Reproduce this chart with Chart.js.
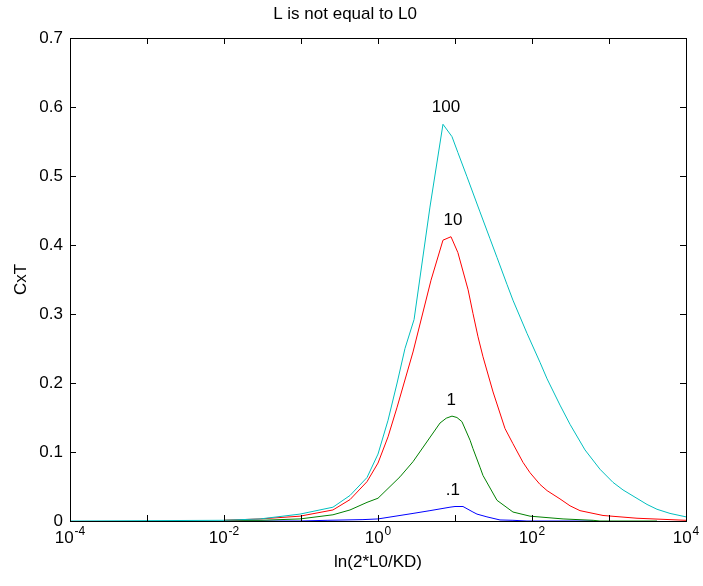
<!DOCTYPE html>
<html>
<head>
<meta charset="utf-8">
<script src="https://cdn.jsdelivr.net/npm/chart.js@4"></script>
<style>
  html, body { margin: 0; padding: 0; background: #ffffff; }
  #wrap { width: 703px; height: 586px; }
</style>
</head>
<body>
<div id="wrap"><canvas id="c" width="703" height="586"></canvas></div>
<script>
// ---- data ----
const xCyan = [0.0001, 0.01, 0.0294, 0.097, 0.26, 0.433, 0.72, 1, 1.35, 1.77, 2.24, 2.94, 4.73, 6.98, 9.14, 10.9, 14.3, 21.1, 28.5, 35.1, 47.3, 56.6, 86.1, 127, 157, 231, 312, 488, 764, 1127, 1521, 3118, 4201, 6197, 10000];
const yCyan = [0, 0.001, 0.003, 0.010, 0.020, 0.037, 0.063, 0.097, 0.146, 0.200, 0.250, 0.292, 0.455, 0.575, 0.557, 0.534, 0.499, 0.448, 0.409, 0.382, 0.343, 0.320, 0.272, 0.230, 0.206, 0.168, 0.140, 0.103, 0.075, 0.056, 0.045, 0.024, 0.017, 0.011, 0.006];

const xRed = [0.01, 0.0294, 0.097, 0.26, 0.433, 0.72, 1, 1.35, 1.77, 2.85, 4.88, 6.98, 8.87, 10.9, 14.8, 17.1, 19.9, 23.1, 31.2, 44.6, 56.6, 76.4, 94.2, 127, 157, 231, 312, 420, 836, 2311, 10000];
const yRed = [0.001, 0.003, 0.007, 0.016, 0.031, 0.057, 0.084, 0.122, 0.165, 0.245, 0.349, 0.407, 0.412, 0.389, 0.335, 0.301, 0.267, 0.238, 0.187, 0.134, 0.112, 0.085, 0.070, 0.053, 0.044, 0.032, 0.022, 0.015, 0.008, 0.004, 0.001];

const xGreen = [0.01, 0.0294, 0.097, 0.26, 0.433, 0.72, 1, 1.93, 2.85, 6.39, 7.7, 9.14, 10.6, 12.3, 15.7, 17.1, 21.1, 23.1, 35.1, 56.6, 94.2, 253, 620, 764, 4201];
const yGreen = [0.001, 0.001, 0.003, 0.009, 0.016, 0.027, 0.033, 0.064, 0.086, 0.142, 0.149, 0.152, 0.150, 0.144, 0.117, 0.105, 0.078, 0.066, 0.030, 0.013, 0.007, 0.003, 0.001, 0, 0];

const xBlue = [0.01, 0.097, 0.218, 0.638, 1, 2.85, 4.73, 8.61, 10, 12.7, 17.1, 19.3, 26.0, 38.4, 56.6, 86.1, 620];
const yBlue = [0, 0, 0.001, 0.002, 0.003, 0.011, 0.015, 0.020, 0.021, 0.021, 0.013, 0.010, 0.006, 0.0015, 0.001, 0, 0];

const curveLabels = ['100', '10', '1', '.1'];
const curveLabelX = [7.64, 9.4, 8.9, 9.4];
const curveLabelY = [0.600, 0.436, 0.175, 0.045];

const xDecades = [-4, -3, -2, -1, 0, 1, 2, 3, 4];
const xLabelDecades = [-4, -2, 0, 2, 4];

const titleText = 'L is not equal to L0';
const xTitle = 'ln(2*L0/KD)';
const yTitle = 'CxT';

// ---- helpers ----
const FAMILY = '"Liberation Sans", Arial, Helvetica, sans-serif';
const pts = (xs, ys) => xs.map((x, i) => ({ x: x, y: ys[i] }));
const lineDs = (label, xs, ys, color) => ({
  label: label,
  data: pts(xs, ys),
  borderColor: color,
  backgroundColor: color,
  borderWidth: 1,
  pointRadius: 0,
  tension: 0,
  fill: false
});

const matlabAxes = {
  id: 'matlabAxes',
  afterDraw(chart) {
    const { ctx, chartArea: a, scales } = chart;
    const xs = scales.x, ys = scales.y;
    ctx.save();
    ctx.strokeStyle = '#000';
    ctx.lineWidth = 1;
    // box
    ctx.strokeRect(Math.round(a.left) + 0.5, Math.round(a.top) + 0.5,
                   Math.round(a.right - a.left), Math.round(a.bottom - a.top));
    const TL = 6;
    ctx.beginPath();
    xDecades.forEach(k => {
      const px = Math.round(xs.getPixelForValue(Math.pow(10, k))) + 0.5;
      ctx.moveTo(px, a.bottom); ctx.lineTo(px, a.bottom - TL);
      ctx.moveTo(px, a.top); ctx.lineTo(px, a.top + TL);
    });
    ys.ticks.forEach(t => {
      const py = Math.round(ys.getPixelForValue(t.value)) + 0.5;
      ctx.moveTo(a.left, py); ctx.lineTo(a.left + TL, py);
      ctx.moveTo(a.right, py); ctx.lineTo(a.right - TL, py);
    });
    ctx.stroke();

    // x tick labels 10^k
    ctx.fillStyle = '#000';
    ctx.textBaseline = 'alphabetic';
    ctx.textAlign = 'left';
    xLabelDecades.forEach(k => {
      const px = xs.getPixelForValue(Math.pow(10, k));
      const base = '10', exp = String(k);
      ctx.font = '17px ' + FAMILY;
      const wb = ctx.measureText(base).width;
      ctx.font = '12px ' + FAMILY;
      const we = ctx.measureText(exp).width;
      const start = px - (wb + we + 1) / 2;
      ctx.font = '17px ' + FAMILY;
      ctx.fillText(base, start, a.bottom + 22);
      ctx.font = '12px ' + FAMILY;
      ctx.fillText(exp, start + wb + 1, a.bottom + 14);
    });

    // curve labels
    ctx.font = '17px ' + FAMILY;
    ctx.textAlign = 'center';
    ctx.textBaseline = 'middle';
    curveLabels.forEach((t, i) => {
      ctx.fillText(t, xs.getPixelForValue(curveLabelX[i]), ys.getPixelForValue(curveLabelY[i]));
    });
    ctx.restore();
  }
};

new Chart(document.getElementById('c'), {
  type: 'line',
  data: {
    datasets: [
      lineDs('100', xCyan, yCyan, '#00BFBF'),
      lineDs('10', xRed, yRed, '#FF0000'),
      lineDs('1', xGreen, yGreen, '#008000'),
      lineDs('.1', xBlue, yBlue, '#0000FF')
    ]
  },
  options: {
    responsive: false,
    animation: false,
    devicePixelRatio: 1,
    layout: { padding: { left: 4, right: 17, top: 0, bottom: 4 } },
    plugins: {
      legend: { display: false },
      tooltip: { enabled: false },
      title: {
        display: true,
        text: titleText,
        color: '#000',
        font: { family: FAMILY, size: 17, weight: 'normal' },
        padding: { top: 4, bottom: 13.6 }
      }
    },
    scales: {
      x: {
        type: 'logarithmic',
        min: 0.0001,
        max: 10000,
        grid: { display: false, drawTicks: false },
        border: { display: false },
        ticks: { display: false },
        title: {
          display: true,
          text: xTitle,
          color: '#000',
          font: { family: FAMILY, size: 17 },
          padding: { top: 0, bottom: 9 }
        },
        afterFit: s => { s.height = 61; }
      },
      y: {
        type: 'linear',
        min: 0,
        max: 0.7,
        grid: { display: false, drawTicks: false },
        border: { display: false },
        ticks: {
          stepSize: 0.1,
          color: '#000',
          padding: 7,
          font: { family: FAMILY, size: 17 }
        },
        title: {
          display: true,
          text: yTitle,
          color: '#000',
          font: { family: FAMILY, size: 17 },
          padding: { top: 7, bottom: 0 }
        },
        afterFit: s => { s.width = 66; }
      }
    }
  },
  plugins: [matlabAxes]
});
</script>
</body>
</html>
